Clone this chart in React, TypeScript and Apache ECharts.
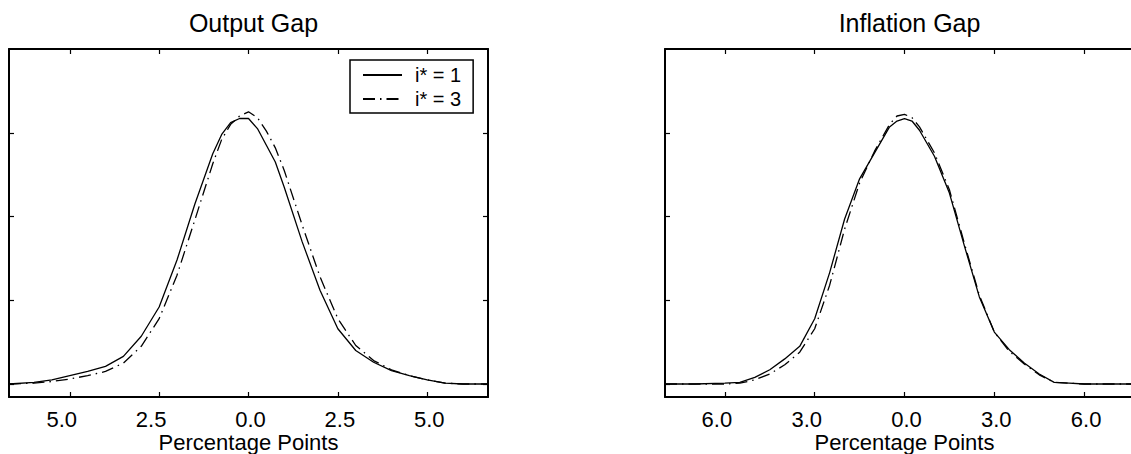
import React, { useEffect, useRef } from "react";
import * as echarts from "echarts";

const outputGapX = [-6.7, -6.0, -5.5, -5.0, -4.5, -4.0, -3.5, -3.0, -2.5, -2.0, -1.5, -1.0, -0.75, -0.5, -0.25, 0.0, 0.25, 0.5, 0.75, 1.0, 1.5, 2.0, 2.5, 3.0, 3.5, 4.0, 4.5, 5.0, 5.5, 6.0, 6.7];
const outputGapI1 = [0, 0.002, 0.005, 0.010, 0.015, 0.021, 0.033, 0.057, 0.092, 0.148, 0.215, 0.275, 0.298, 0.312, 0.317, 0.317, 0.305, 0.285, 0.265, 0.235, 0.17, 0.112, 0.066, 0.040, 0.026, 0.016, 0.010, 0.005, 0.001, 0, 0];
const outputGapI3 = [0, 0.001, 0.003, 0.006, 0.010, 0.015, 0.025, 0.045, 0.078, 0.130, 0.196, 0.263, 0.292, 0.310, 0.320, 0.325, 0.318, 0.302, 0.282, 0.255, 0.190, 0.128, 0.078, 0.046, 0.028, 0.017, 0.010, 0.005, 0.001, 0, 0];

const inflationGapX = [-8, -7, -6, -5.5, -5, -4.5, -4, -3.5, -3, -2.5, -2, -1.5, -1, -0.5, -0.25, 0, 0.25, 0.5, 1, 1.5, 2, 2.5, 3, 3.5, 4, 4.5, 5, 5.5, 6, 7, 8];
const inflationGapI1 = [0, 0, 0.001, 0.002, 0.008, 0.017, 0.030, 0.045, 0.078, 0.133, 0.197, 0.245, 0.276, 0.307, 0.314, 0.317, 0.314, 0.303, 0.272, 0.228, 0.165, 0.104, 0.062, 0.041, 0.025, 0.012, 0.002, 0.001, 0, 0, 0];
const inflationGapI3 = [0, 0, 0, 0.001, 0.005, 0.012, 0.023, 0.038, 0.066, 0.118, 0.185, 0.240, 0.278, 0.310, 0.320, 0.322, 0.318, 0.307, 0.276, 0.232, 0.168, 0.106, 0.062, 0.039, 0.024, 0.011, 0.002, 0.001, 0, 0, 0];

const outputTicks = [-5, -2.5, 0, 2.5, 5];
const inflationTicks = [-6, -3, 0, 3, 6];
const yTicks = [0, 0.1, 0.2, 0.3];

const seriesNames = ["i* = 1", "i* = 3"];
const panelTitles = ["Output Gap", "Inflation Gap"];
const xAxisName = "Percentage Points";

const FONT = "'Liberation Sans', Arial, Helvetica, sans-serif";

function pairs(xs: number[], ys: number[]) {
  return xs.map((x, i) => [x, ys[i]]);
}

export default function App() {
  const ref = useRef<HTMLDivElement>(null);
  useEffect(() => {
    if (!ref.current) return;
    const chart = echarts.init(ref.current, undefined, { renderer: "svg" });
    const gridTop = 49;
    const gridH = 348;
    const gridW = 479;
    const grids = [
      { left: 9, top: gridTop, width: gridW, height: gridH, outerBoundsMode: "none", containLabel: false },
      { left: 665, top: gridTop, width: gridW, height: gridH, outerBoundsMode: "none", containLabel: false },
    ];
    const ranges = [
      [-6.7, 6.7],
      [-8, 8],
    ];
    const ticks = [outputTicks, inflationTicks];
    const frameLine = { show: true, onZero: false, lineStyle: { color: "#000", width: 2 } };
    const tickStyle = (vals: number[]) => ({
      show: true,
      inside: true,
      length: 5,
      customValues: vals,
      lineStyle: { color: "#000", width: 1.2 },
    });
    const xAxes: any[] = [];
    const yAxes: any[] = [];
    [0, 1].forEach((g) => {
      xAxes.push({
        type: "value",
        gridIndex: g,
        position: "bottom",
        min: ranges[g][0],
        max: ranges[g][1],
        axisLine: frameLine,
        axisTick: tickStyle(ticks[g]),
        splitLine: { show: false },
        axisLabel: {
          show: true,
          customValues: ticks[g],
          margin: 11,
          fontSize: 22,
          lineHeight: 22,
          fontFamily: FONT,
          color: "#000",
          formatter: (v: number) =>
            v < 0 ? `{n|${Math.abs(v).toFixed(1)}}` : `{p|${v.toFixed(1)}}`,
          rich: {
            n: { fontSize: 22, lineHeight: 22, fontFamily: FONT, color: "#000", padding: [0, 16, 0, 0] },
            p: { fontSize: 22, lineHeight: 22, fontFamily: FONT, color: "#000", padding: [0, 0, 0, 4] },
          },
        },
      });
      xAxes.push({
        type: "value",
        gridIndex: g,
        position: "top",
        min: ranges[g][0],
        max: ranges[g][1],
        axisLine: frameLine,
        axisTick: tickStyle(ticks[g]),
        axisLabel: { show: false },
        splitLine: { show: false },
      });
      yAxes.push({
        type: "value",
        gridIndex: g,
        position: "left",
        min: -0.0155,
        max: 0.4,
        axisLine: frameLine,
        axisTick: tickStyle(yTicks),
        axisLabel: { show: false },
        splitLine: { show: false },
      });
      yAxes.push({
        type: "value",
        gridIndex: g,
        position: "right",
        min: -0.0155,
        max: 0.4,
        axisLine: frameLine,
        axisTick: tickStyle(yTicks),
        axisLabel: { show: false },
        splitLine: { show: false },
      });
    });

    const solid = { color: "#000", width: 1.3, type: "solid" };
    const dashDot = { color: "#000", width: 1.3, type: [12, 5, 1.5, 5] };
    const mk = (name: string, xs: number[], ys: number[], g: number, ls: any) => ({
      type: "line",
      name,
      xAxisIndex: g * 2,
      yAxisIndex: g * 2,
      data: pairs(xs, ys),
      showSymbol: false,
      symbol: "none",
      smooth: false,
      lineStyle: ls,
      itemStyle: { color: "#000" },
      silent: true,
    });

    const topTitles = panelTitles.map((t, i) => ({
      text: t,
      left: grids[i].left + gridW / 2,
      textAlign: "center",
      top: 5,
      textStyle: { fontSize: 25, fontWeight: "normal", fontFamily: FONT, color: "#000" },
    }));
    const axisTitles = [0, 1].map((i) => ({
      text: xAxisName,
      left: grids[i].left + gridW / 2,
      textAlign: "center",
      top: 431,
      padding: 0,
      textStyle: { fontSize: 22, lineHeight: 23, fontWeight: "normal", fontFamily: FONT, color: "#000" },
    }));

    chart.setOption({
      animation: false,
      backgroundColor: "#fff",
      title: [...topTitles, ...axisTitles],
      legend: {
        show: true,
        orient: "vertical",
        left: 350,
        top: 60,
        data: seriesNames,
        backgroundColor: "#fff",
        borderColor: "#000",
        borderWidth: 1.5,
        borderRadius: 0,
        padding: [5, 12, 4, 12],
        itemWidth: 39,
        itemHeight: 14,
        itemGap: 4,
        itemStyle: { opacity: 0, borderWidth: 0 },
        textStyle: { fontSize: 20, lineHeight: 16, fontFamily: FONT, color: "#000", padding: [0, 0, 0, 8] },
        selectedMode: false,
      },
      grid: grids,
      xAxis: xAxes,
      yAxis: yAxes,
      series: [
        mk(seriesNames[0], outputGapX, outputGapI1, 0, solid),
        mk(seriesNames[1], outputGapX, outputGapI3, 0, dashDot),
        mk(seriesNames[0], inflationGapX, inflationGapI1, 1, solid),
        mk(seriesNames[1], inflationGapX, inflationGapI3, 1, dashDot),
      ],
    });
    return () => chart.dispose();
  }, []);
  return (
    <div
      ref={ref}
      style={{ position: "fixed", left: 0, top: 0, width: 1131, height: 454, background: "#fff" }}
    />
  );
}
